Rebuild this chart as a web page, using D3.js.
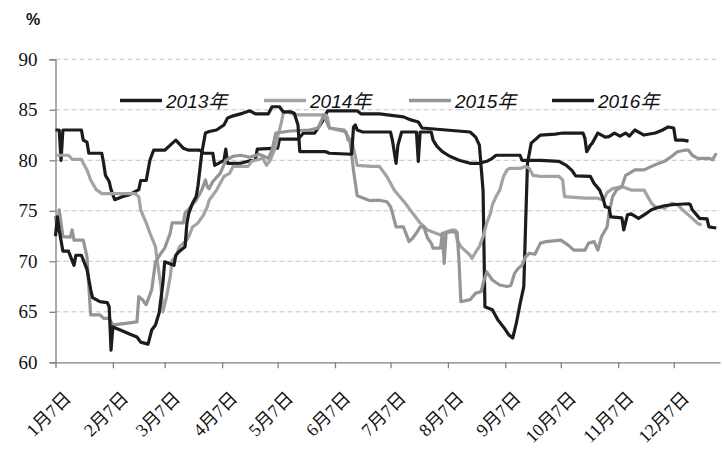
<!DOCTYPE html>
<html><head><meta charset="utf-8">
<script src="https://cdn.jsdelivr.net/npm/d3@7"></script>
<style>body{margin:0;background:#fff}svg{display:block}</style>
</head><body><svg id="c" width="722" height="452"></svg>
<script>
// ---- data (day of year, value %) ----
const seriesNames = ["2013年", "2014年", "2015年", "2016年"];
const tickMonths = [1,2,3,4,5,6,7,8,9,10,11,12];
const tickLabels = ["1月7日","2月7日","3月7日","4月7日","5月7日","6月7日","7月7日","8月7日","9月7日","10月7日","11月7日","12月7日"];
const yTicks = [60,65,70,75,80,85,90];

const days2013 = [7,9,10,11,21,22,24,25,32,33,34,36,37,39,43,47,52,53,56,58,60,66,69,72,76,79,85,87,92,93,96,98,99,100,107,115,116,127,128,138,141,147,151,154,170,172,182,195,199,203,205,218,231,234,236,238,239,243,246,249,252,254,256,258,260,261,262,264,269,277,281,292,293,294,296,297,300,304,306,309,312,315,317,320,323,325,328,331,335,338,341,342,346,349];
const vals2013 = [83.0,83.0,80.0,83.0,83.0,82.0,81.8,80.7,80.7,79.7,78.5,77.9,77.1,76.1,76.4,76.6,77.1,78.0,78.0,80.0,81.0,81.0,81.5,82.0,81.2,81.0,81.0,80.7,80.7,79.5,79.8,80.0,81.1,79.7,79.7,80.1,81.1,81.2,82.1,82.1,82.7,82.7,83.8,84.9,84.9,84.6,84.6,84.3,84.0,83.8,83.2,83.0,82.8,82.3,81.5,77.0,65.5,65.2,64.2,63.5,62.7,62.4,63.9,65.8,67.5,73.8,79.7,81.7,82.5,82.6,82.7,82.7,82.2,80.85,81.5,81.7,82.7,82.3,82.35,82.7,82.4,82.7,82.4,83.0,82.7,82.5,82.6,82.7,83.0,83.3,83.2,82.0,82.0,81.9];

const days2014 = [7,14,16,21,22,24,26,29,32,50,52,53,56,58,61,62,64,65,67,69,70,72,74,78,80,81,84,87,89,90,94,98,101,103,108,111,113,119,121,123,126,127,129,130,132,135,138,153,154,155,164,165,167,169,170,178,182,186,190,193,196,200,204,208,215,218,221,223,224,226,231,232,234,236,238,240,242,243,245,247,249,251,252,258,261,263,265,269,279,281,282,293,300,303,305,308,313,318,325,329,331,336,340,343,347,351,354,356];
const vals2014 = [80.5,80.5,80.1,80.1,79.7,79.05,78.05,77.1,76.7,76.7,76.4,75.1,73.8,72.8,71.45,70.0,67.5,65.0,66.5,68.5,70.1,70.45,71.45,72.1,72.9,73.4,73.8,74.6,75.4,76.05,77.05,78.4,78.7,79.4,79.4,79.4,79.9,80.2,79.5,80.0,81.4,82.35,83.7,84.65,84.8,84.6,84.5,84.5,84.2,83.2,82.8,82.0,82.0,80.4,79.5,79.4,79.4,78.4,77.05,76.4,75.75,74.75,73.8,73.1,72.6,72.9,73.1,73.1,72.1,71.45,70.6,70.3,70.9,71.45,72.45,73.8,74.75,75.6,76.4,77.05,78.4,79.05,79.2,79.2,79.4,79.2,78.5,78.4,78.4,78.05,76.4,76.25,76.25,76.05,76.8,77.2,77.4,77.05,77.05,75.75,75.4,75.25,75.75,75.6,74.9,74.25,73.75,73.6];

const days2015 = [7,8,9,11,15,16,17,22,24,25,26,31,33,36,38,45,51,52,54,56,59,61,64,66,69,70,76,77,80,83,86,88,89,90,92,96,99,103,107,112,117,122,124,126,134,144,149,152,153,155,163,166,168,170,177,182,186,188,189,191,195,197,198,200,202,204,206,208,210,211,215,216,217,218,220,224,225,226,231,234,237,238,240,243,247,251,253,255,257,259,261,263,266,269,272,280,284,287,293,295,298,300,302,305,306,308,310,313,315,317,320,325,329,333,336,340,343,347,349,351,354,360,362,364];
const vals2015 = [74.5,73.0,75.1,72.45,72.4,73.1,72.1,72.1,70.45,67.5,64.7,64.7,64.35,64.35,63.7,63.85,64.0,66.5,66.2,65.7,67.2,69.95,70.8,71.3,72.8,73.8,73.8,74.75,75.4,76.05,77.05,78.05,77.4,77.2,77.9,78.7,80.0,80.4,80.5,80.3,80.6,80.2,81.0,82.7,82.9,83.0,83.2,84.5,84.0,83.2,83.0,82.0,79.0,76.5,76.0,76.05,75.9,75.4,74.8,73.4,73.4,72.45,71.95,72.3,72.8,73.4,73.4,72.3,71.8,71.3,71.3,72.8,69.8,72.8,72.9,72.9,70.0,66.0,66.2,66.85,67.0,67.8,68.95,68.15,67.65,67.5,67.6,68.8,69.3,69.6,70.45,70.8,70.7,71.8,71.95,72.1,71.6,71.1,71.1,71.8,71.95,71.1,72.45,73.4,74.75,76.4,77.05,77.4,78.5,78.7,79.05,79.05,79.4,79.7,79.9,80.4,80.85,81.0,81.0,80.5,80.2,80.2,80.05,80.7];

const days2016 = [7,8,9,11,14,17,18,21,24,26,27,31,35,36,37,38,42,47,51,53,57,59,61,63,65,66,71,72,74,77,78,79,81,83,84,86,88,90,94,98,100,103,108,112,115,122,124,128,130,134,136,138,139,153,155,167,168,169,170,173,188,189,191,192,194,202,203,204,210,211,213,216,220,225,231,236,240,243,245,258,259,269,279,283,286,288,296,298,301,303,304,306,307,313,314,316,318,322,325,329,332,336,340,349,350,351,355,359,360,364];
const vals2016 = [72.5,74.4,73.1,71.0,71.0,69.6,70.6,70.6,69.2,67.2,66.4,66.0,65.9,65.5,61.2,63.5,63.2,62.8,62.5,62.0,61.8,63.2,63.7,64.9,67.8,69.95,69.6,70.6,71.0,71.45,73.8,74.75,75.75,76.4,77.5,80.7,82.7,82.85,83.0,83.5,84.2,84.4,84.65,84.9,84.6,84.6,85.3,85.3,84.8,84.8,84.65,83.5,80.85,80.85,80.7,80.6,83.3,83.5,83.0,82.8,82.8,82.0,79.7,81.5,82.8,82.8,79.9,82.8,82.8,82.0,81.4,80.85,80.4,80.0,79.7,79.7,79.9,80.2,80.5,80.5,80.0,80.0,79.9,79.5,79.0,78.45,78.4,77.7,77.05,76.1,75.4,75.3,74.4,74.3,73.1,74.6,74.7,74.25,74.6,75.1,75.3,75.5,75.6,75.7,75.6,75.1,74.25,74.2,73.4,73.3];

// ---- drawing ----
const seriesDays = [days2013, days2014, days2015, days2016];
const seriesVals = [vals2013, vals2014, vals2015, vals2016];
const colors = ["#1c1c1c", "#a3a3a3", "#959595", "#1c1c1c"];

const base = Date.UTC(1900, 0, 1);
const dayToDate = d => d3.utcDay.offset(new Date(base), d - 1);

const svg = d3.select("#c");
const x = d3.scaleUtc().domain([new Date(Date.UTC(1900,0,7)), new Date(Date.UTC(1901,0,1))]).range([55.5, 720]);
const y = d3.scaleLinear().domain([60, 90]).range([362.3, 59.3]);

// gridlines
svg.append("g").selectAll("line").data(yTicks.filter(t => t > 60)).join("line")
  .attr("x1", 55.5).attr("x2", 720).attr("y1", d => y(d)).attr("y2", d => y(d))
  .attr("stroke", "#c4c4c4").attr("stroke-width", 1).attr("stroke-dasharray", "5,3");

// y axis
const yAxis = svg.append("g").attr("transform", "translate(55.5,0)")
  .call(d3.axisLeft(y).tickValues(yTicks).tickSize(6).tickPadding(12).tickFormat(d3.format("d")));
yAxis.select(".domain").attr("stroke", "#7f7f7f").attr("stroke-width", 1.3);
yAxis.selectAll(".tick line").attr("stroke", "#7f7f7f").attr("stroke-width", 1.3);
yAxis.selectAll("text").attr("font-family", "'Liberation Serif', serif").attr("font-size", 19).attr("fill", "#111");

// x axis
const tickDates = tickMonths.map(m => new Date(Date.UTC(1900, m - 1, 7)));
const xAxis = svg.append("g").attr("transform", "translate(0,362.3)")
  .call(d3.axisBottom(x).tickValues(tickDates).tickSize(6).tickSizeOuter(0).tickFormat((d, i) => tickLabels[i]));
xAxis.select(".domain").attr("stroke", "#7f7f7f").attr("stroke-width", 1.3);
xAxis.selectAll(".tick line").attr("stroke", "#7f7f7f").attr("stroke-width", 1.3);
xAxis.selectAll("text")
  .attr("font-family", "'Liberation Serif', 'Noto Sans CJK SC', serif").attr("font-size", 18).attr("fill", "#111")
  .attr("text-anchor", "end").attr("dy", 0).attr("y", 0)
  .attr("transform", "translate(16,37) rotate(-45)");

// lines
const line = d3.line().x(d => x(d[0])).y(d => y(d[1]));
seriesDays.forEach((days, i) => {
  const pts = days.map((d, j) => [dayToDate(d), seriesVals[i][j]]);
  svg.append("path").datum(pts).attr("d", line)
    .attr("fill", "none").attr("stroke", colors[i]).attr("stroke-width", 3.2)
    .attr("stroke-linejoin", "round");
});

// legend
const legX = [120, 264, 409, 552];
const leg = svg.append("g");
seriesNames.forEach((n, i) => {
  leg.append("line").attr("x1", legX[i]).attr("x2", legX[i] + 42).attr("y1", 100.5).attr("y2", 100.5)
    .attr("stroke", colors[i]).attr("stroke-width", 3.5);
  leg.append("text").attr("x", legX[i] + 46).attr("y", 107.5).text(n)
    .attr("font-family", "'Liberation Sans', 'Noto Sans CJK SC', sans-serif").attr("font-style", "italic")
    .attr("font-size", 19).attr("fill", "#111");
});

// unit label
svg.append("text").attr("x", 33).attr("y", 25).attr("text-anchor", "middle").text("%")
  .attr("font-family", "'Liberation Sans', sans-serif").attr("font-weight", "bold").attr("font-size", 16).attr("fill", "#111");
</script>
</body></html>
